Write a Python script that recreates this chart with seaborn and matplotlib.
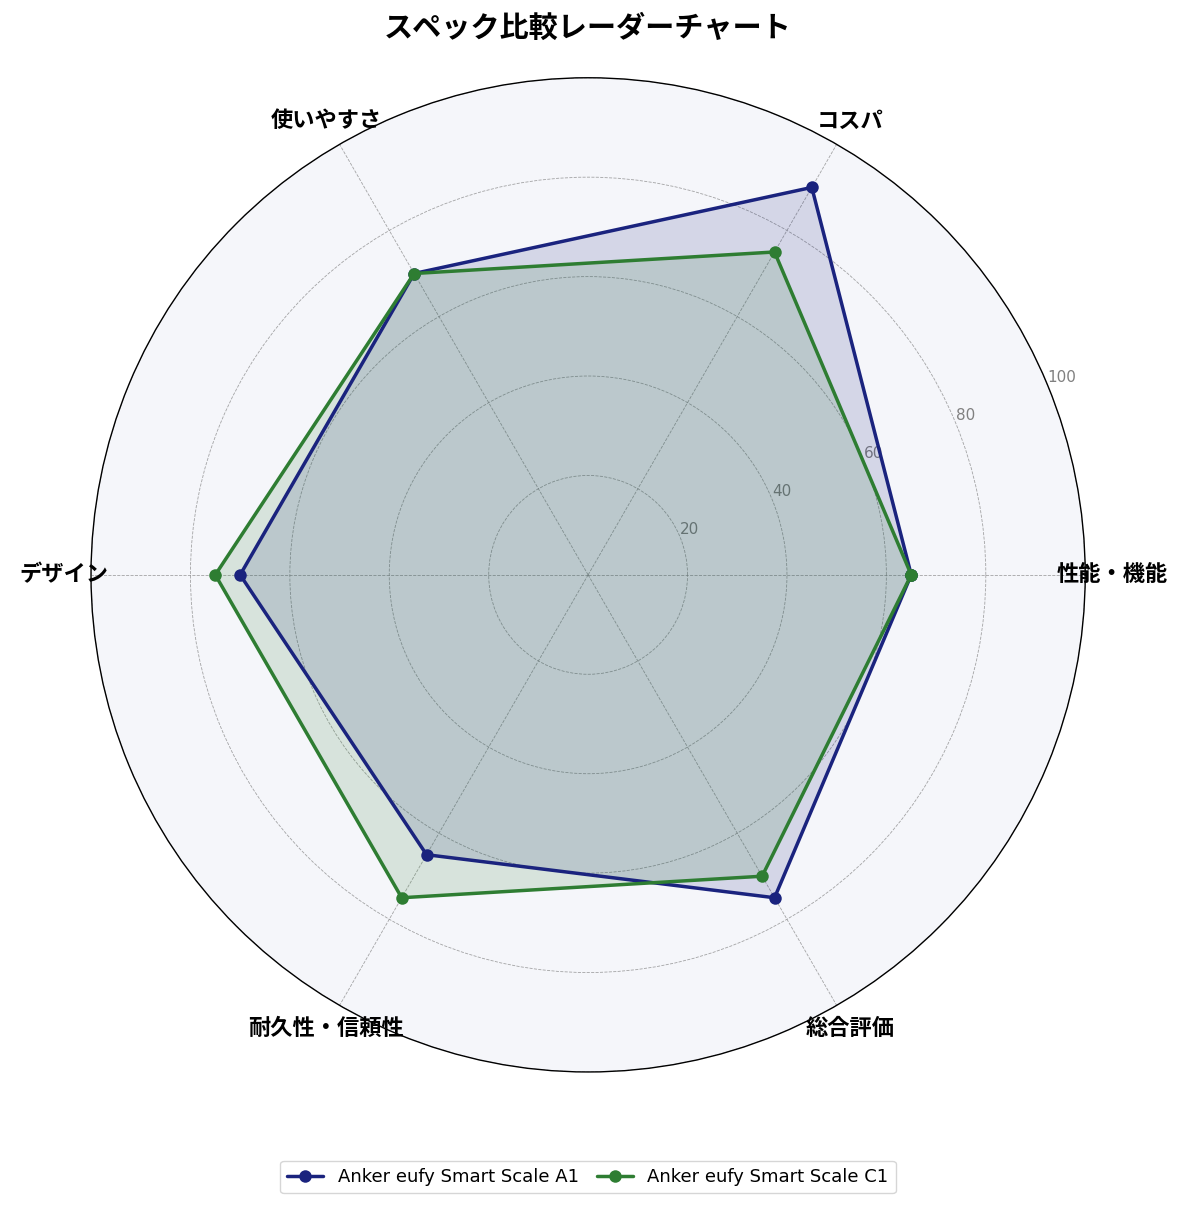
import numpy as np
import pandas as pd
import matplotlib
matplotlib.use('Agg')
import matplotlib.pyplot as plt
import seaborn as sns

categories = ['性能・機能', 'コスパ', '使いやすさ', 'デザイン', '耐久性・信頼性', '総合評価']
products = ['Anker eufy Smart Scale A1', 'Anker eufy Smart Scale C1']
scores_a1 = [65, 90, 70, 70, 65, 75]
scores_c1 = [65, 75, 70, 75, 75, 70]
colors = ['#1a237e', '#2e7d32']
rticks = [20, 40, 60, 80, 100]

sns.set_style('white')
plt.rcParams['font.family'] = ['Noto Sans CJK JP', 'DejaVu Sans']
plt.rcParams['text.color'] = 'black'
plt.rcParams['xtick.color'] = 'black'

angles = np.linspace(0, 2 * np.pi, len(categories), endpoint=False)
closed = np.concatenate([angles, angles[:1]])

rows = []
for name, vals in zip(products, [scores_a1, scores_c1]):
    vv = list(vals) + [vals[0]]
    for a, v in zip(closed, vv):
        rows.append({'product': name, 'angle': a, 'score': v})
df = pd.DataFrame(rows)

fig = plt.figure(figsize=(11.85, 12.11), dpi=100)
ax = fig.add_axes([0.0768, 0.1148, 0.839, 0.821], projection='polar')
ax.set_facecolor('#f5f6fa')

sns.lineplot(data=df, x='angle', y='score', hue='product', palette=colors,
             sort=False, estimator=None, units='product', marker='o',
             markersize=9, markeredgewidth=0, linewidth=2.5, ax=ax)
for name, c in zip(products, colors):
    sub = df[df['product'] == name]
    ax.fill(sub['angle'], sub['score'], color=c, alpha=0.15)

ax.set_ylim(0, 100)
ax.set_yticks(rticks)
ax.set_yticklabels([str(t) for t in rticks], color='gray', fontsize=11,
                   family=['DejaVu Sans'])
ax.set_rlabel_position(22.5)
ax.set_xticks(angles)
ax.set_xticklabels(categories, fontsize=16, fontweight='bold', color='black')
ax.tick_params(axis='x', pad=9)
ax.grid(True, color='gray', linestyle='--', linewidth=0.6, alpha=0.7)
ax.spines['polar'].set_color('black')
ax.spines['polar'].set_linewidth(1.0)
ax.set_xlabel('')
ax.set_ylabel('')

fig.text(0.496, 1 - 28 / 1211, 'スペック比較レーダーチャート', fontsize=21,
         fontweight='bold', ha='center', va='center', color='black')
handles, labels = ax.get_legend_handles_labels()
ax.get_legend().remove()
fig.legend(handles, labels, loc='center', bbox_to_anchor=(0.496, 1 - 1177 / 1211),
           ncol=2, prop={'family': 'DejaVu Sans', 'size': 13}, frameon=True,
           handlelength=2.0, columnspacing=1.0)

fig.savefig('out.png', dpi=100)
